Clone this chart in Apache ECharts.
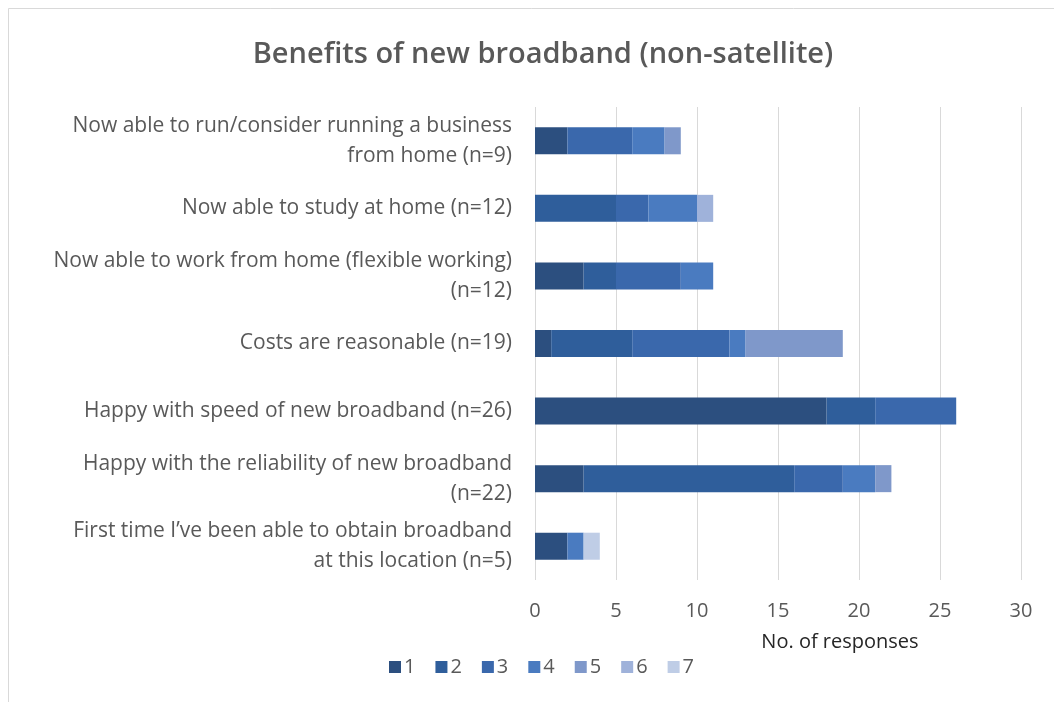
<!DOCTYPE html>
<html>
<head>
<meta charset="utf-8">
<script src="https://cdn.jsdelivr.net/npm/echarts@6/dist/echarts.min.js"></script>
<style>
  html, body { margin: 0; padding: 0; background: #fff; }
  #chart { width: 1054px; height: 702px; }
</style>
</head>
<body>
<div id="chart"></div>
<script>
// Survey statements (top to bottom)
const categories = [
  'Now able to run/consider running a business\nfrom home (n=9)',
  'Now able to study at home (n=12)',
  'Now able to work from home (flexible working)\n(n=12)',
  'Costs are reasonable (n=19)',
  'Happy with speed of new broadband (n=26)',
  'Happy with the reliability of new broadband\n(n=22)',
  'First time I\u2019ve been able to obtain broadband\nat this location (n=5)'
];

// Rating groups 1..7, responses per statement
const rating1 = [2, 0, 3, 1, 18, 3, 2];
const rating2 = [0, 5, 2, 5, 3, 13, 0];
const rating3 = [4, 2, 4, 6, 5, 3, 0];
const rating4 = [2, 3, 2, 1, 0, 2, 1];
const rating5 = [1, 0, 0, 6, 0, 1, 0];
const rating6 = [0, 1, 0, 0, 0, 0, 0];
const rating7 = [0, 0, 0, 0, 0, 0, 1];

const seriesNames = ['1', '2', '3', '4', '5', '6', '7'];
const seriesData = [rating1, rating2, rating3, rating4, rating5, rating6, rating7];
const colors = ['#2c4f7f', '#2f5e9b', '#3a68ac', '#4a7bc0', '#7f98ca', '#9fb2da', '#bfcde6'];

const xTicks = { min: 0, max: 30, interval: 5 };

const FONT = '"Open Sans", Lato, sans-serif';
const chart = echarts.init(document.getElementById('chart'), null, { renderer: 'canvas' });

chart.setOption({
  backgroundColor: '#ffffff',
  animation: false,
  color: colors,
  title: {
    text: 'Benefits of new broadband (non-satellite)',
    left: 538,
    textAlign: 'center',
    top: 35,
    textStyle: { fontFamily: FONT, fontSize: 29, fontWeight: 600, color: '#595959' }
  },
  graphic: [{
    type: 'rect',
    shape: { x: 8.5, y: 8.5, width: 1060, height: 700 },
    style: { fill: 'none', stroke: '#d9d9d9', lineWidth: 1 },
    silent: true
  }],
  legend: {
    data: seriesNames,
    left: 384,
    top: 652,
    itemWidth: 12,
    itemHeight: 12,
    itemGap: 20,
    icon: 'rect',
    textStyle: { fontFamily: FONT, fontSize: 20, color: '#595959', padding: [0, 0, 0, -2] }
  },
  grid: { left: 535, right: 33, top: 107, bottom: 122, containLabel: false },
  xAxis: {
    type: 'value',
    min: xTicks.min,
    max: xTicks.max,
    interval: xTicks.interval,
    axisLine: { show: false },
    axisTick: { show: false },
    splitLine: { lineStyle: { color: '#d9d9d9', width: 1 } },
    axisLabel: { fontFamily: FONT, fontSize: 20, color: '#595959', margin: 21 },
    name: 'No. of responses',
    nameLocation: 'middle',
    nameGap: 52,
    nameTextStyle: { fontFamily: FONT, fontSize: 20, color: '#262626', padding: [0, 0, 0, 124] }
  },
  yAxis: {
    type: 'category',
    data: categories,
    inverse: true,
    axisLine: { show: false },
    axisTick: { show: false },
    axisLabel: {
      fontFamily: FONT, fontSize: 21, color: '#595959', margin: 23,
      align: 'right', lineHeight: 30
    }
  },
  series: seriesNames.map((name, i) => ({
    name: name,
    type: 'bar',
    stack: 'total',
    barWidth: '40%',
    data: seriesData[i],
    itemStyle: { color: colors[i] }
  }))
});
</script>
</body>
</html>
